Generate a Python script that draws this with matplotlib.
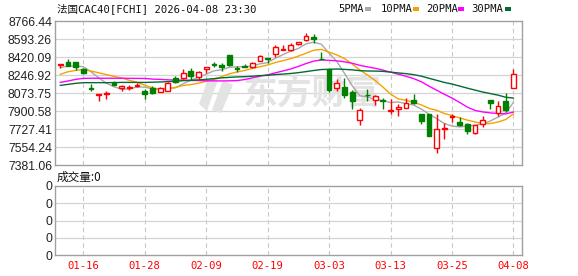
import matplotlib
matplotlib.use("Agg")
import matplotlib.pyplot as plt
from matplotlib.patches import Rectangle, Polygon
import numpy as np
import pandas as pd

# ---------------- data ----------------
dates = ["01-13", "01-14", "01-15", "01-16", "01-19", "01-20", "01-21", "01-22", "01-23",
         "01-26", "01-27", "01-28", "01-29", "01-30",
         "02-02", "02-03", "02-04", "02-05", "02-06", "02-09", "02-10", "02-11", "02-12",
         "02-13", "02-16", "02-17", "02-18", "02-19", "02-20", "02-23", "02-24", "02-25",
         "02-26", "02-27",
         "03-02", "03-03", "03-04", "03-05", "03-06", "03-09", "03-10", "03-11", "03-12",
         "03-13", "03-16", "03-17", "03-18", "03-19", "03-20", "03-23", "03-24", "03-25",
         "03-26", "03-27", "03-30", "03-31",
         "04-01", "04-02", "04-07", "04-08"]

opens = [8344.8, 8373.8, 8370.6, 8309.5, 8122.9, 8052.2, 8061.8, 8168.0, 8122.9, 8126.2,
         8145.5, 8097.2, 8119.7, 8081.1, 8090.8, 8219.4, 8222.6, 8286.9, 8225.8, 8303.0,
         8354.5, 8348.1, 8441.3, 8312.7, 8332.0, 8328.8, 8380.2, 8412.4, 8451.0, 8492.8,
         8492.8, 8550.7, 8586.0, 8618.2, 8406.0, 8306.2, 8126.2, 8129.4, 8084.3, 7814.2,
         8058.6, 8003.9, 8007.2, 7904.2, 7920.3, 7926.8, 8007.2, 7872.1, 7872.1, 7540.8,
         7730.6, 7843.1, 7794.9, 7772.4, 7692.0, 7778.8, 8003.9, 7878.5, 8000.7, 8119.7]

highs = [8357.7, 8399.5, 8373.8, 8319.1, 8158.3, 8061.8, 8094.0, 8190.5, 8155.1, 8155.1,
         8168.0, 8113.3, 8142.2, 8135.8, 8180.8, 8238.7, 8303.0, 8312.7, 8283.7, 8322.3,
         8373.8, 8364.1, 8444.5, 8335.2, 8354.5, 8373.8, 8444.5, 8412.4, 8537.8, 8534.6,
         8553.9, 8566.7, 8650.4, 8643.9, 8467.0, 8306.2, 8213.0, 8216.2, 8103.6, 7929.9,
         8110.1, 8052.2, 8029.7, 8013.6, 7971.8, 8023.2, 8065.0, 7872.1, 7872.1, 7868.9,
         7782.0, 7875.3, 7839.9, 7782.0, 7769.2, 7849.6, 8003.9, 7997.5, 8071.5, 8303.0]

lows = [8319.1, 8335.2, 8299.8, 8258.0, 8097.2, 8000.7, 8020.0, 8148.7, 8097.2, 8103.6,
        8129.4, 8020.0, 8065.0, 8081.1, 8090.8, 8168.0, 8213.0, 8200.1, 8196.9, 8270.9,
        8325.5, 8283.7, 8338.4, 8277.3, 8322.3, 8312.7, 8380.2, 8360.9, 8425.2, 8492.8,
        8483.1, 8537.8, 8579.6, 8553.9, 8393.1, 8087.6, 8094.0, 8029.7, 7917.1, 7769.2,
        7997.5, 7962.1, 7923.5, 7872.1, 7852.8, 7926.8, 7968.6, 7775.6, 7663.0, 7499.0,
        7627.7, 7798.1, 7756.3, 7682.3, 7682.3, 7746.7, 7917.1, 7856.0, 7894.6, 8119.7]

closes = [8354.5, 8338.4, 8325.5, 8264.4, 8116.5, 8061.8, 8077.9, 8155.1, 8145.5, 8132.6,
          8155.1, 8068.3, 8077.9, 8126.2, 8174.4, 8180.8, 8264.4, 8241.9, 8274.1, 8322.3,
          8341.6, 8322.3, 8348.1, 8306.2, 8325.5, 8367.4, 8434.9, 8406.0, 8518.5, 8499.2,
          8534.6, 8566.7, 8627.8, 8595.7, 8399.5, 8103.6, 8174.4, 8052.2, 8000.7, 7910.7,
          8052.2, 8042.5, 8000.7, 7910.7, 7936.4, 7975.0, 7975.0, 7807.8, 7663.0, 7724.2,
          7737.0, 7849.6, 7766.0, 7704.9, 7762.7, 7811.0, 7981.4, 7952.5, 7910.7, 8261.2]

# closes before the visible window (used only for the moving averages)
prior_closes = [8040, 8025, 8080, 8110, 8060, 8090, 8120, 8100, 8130, 8150,
                8080, 8010, 8060, 8090, 8070, 8080, 8150, 8140, 8160, 8162,
                8085, 8200, 8180, 8260, 8230,
                8257, 8325, 8297, 8361]

volumes = [0] * len(dates)

tick_labels = ["01-16", "01-28", "02-09", "02-19", "03-03", "03-13", "03-25", "04-08"]
price_ticks = [8766.44, 8593.26, 8420.09, 8246.92, 8073.75, 7900.58, 7727.41, 7554.24, 7381.06]
vol_ticks = [0, 1, 2, 3, 4]
vol_tick_labels = ["0", "0", "0", "0", "0"]

ma_periods = [5, 10, 20, 30]
ma_names = ["5PMA", "10PMA", "20PMA", "30PMA"]
ma_colors = ["#a8a8a8", "#f5a200", "#ff00ff", "#006b36"]

title_text = "法国CAC40[FCHI] 2026-04-08 23:30"
vol_title = "成交量:0"
watermark = "东方财富"

# ---------------- styling ----------------
UP = "#ff0000"
DOWN = "#008000"
GRID = "#d4d4d4"
BORDER = "#a0a0a0"
WM = "#e3e3e3"
W, H = 578, 276

fig = plt.figure(figsize=(W / 100, H / 100), dpi=100)


def box(l, t, r, b):
    return [l / W, 1 - b / H, (r - l) / W, (b - t) / H]


def fpt(px, py):
    return (px / W, 1 - py / H)


ax = fig.add_axes(box(55.3, 21.3, 522, 165))
axv = fig.add_axes(box(55.3, 186, 522, 255.3))

n = len(dates)
x = np.arange(n)
o = np.array(opens)
c = np.array(closes)
hi = np.array(highs)
lo = np.array(lows)
up = c >= o

tick_pos = [dates.index(t) for t in tick_labels]

for a in (ax, axv):
    a.set_xlim(-0.65, n + 0.12)
    for s in a.spines.values():
        s.set_color(BORDER)
        s.set_linewidth(1.0)
    for tp in tick_pos:
        a.axvline(tp, color="#c8c8c8", lw=0.8, ls=(0, (4, 3)), zorder=1)
    a.tick_params(length=0)

# main panel
ax.set_ylim(price_ticks[-1], price_ticks[0])
for yv in price_ticks[1:-1]:
    ax.axhline(yv, color=GRID, lw=0.9, zorder=1)
ax.set_yticks(price_ticks)
ax.set_yticklabels([f"{v:.2f}" for v in price_ticks], family="Liberation Sans",
                   fontsize=8.8, color="#222222")
ax.tick_params(axis="y", pad=2.4)
ax.set_xticks([])

# watermark logo
ax.text(0.55, 0.50, watermark, transform=ax.transAxes, ha="center", va="center",
        fontsize=25, fontweight="bold", family="Noto Sans CJK SC", color=WM, zorder=1.5)
for pts in ([(208, 79), (219, 77), (207, 111), (199, 104)],
            [(223, 80), (233, 85), (221, 113), (212, 110)]):
    ax.add_patch(Polygon([fpt(px, py) for px, py in pts], closed=True,
                         transform=fig.transFigure, facecolor=WM, edgecolor="none",
                         zorder=1.5))

# moving averages
all_closes = pd.Series(list(prior_closes) + list(closes), dtype=float)
for p, col in zip(ma_periods, ma_colors):
    ma = all_closes.rolling(p).mean().values[len(prior_closes):]
    ax.plot(x, ma, color=col, lw=1.0, zorder=2.5)

# candles
bw = 0.62
ax.vlines(x[up], lo[up], hi[up], color=UP, lw=1.0, zorder=3)
ax.vlines(x[~up], lo[~up], hi[~up], color=DOWN, lw=1.0, zorder=3)
ax.bar(x[up], c[up] - o[up], bottom=o[up], width=bw, facecolor="white",
       edgecolor=UP, linewidth=1.0, zorder=4)
ax.bar(x[~up], c[~up] - o[~up], bottom=o[~up], width=bw, facecolor=DOWN,
       edgecolor=DOWN, linewidth=1.0, zorder=4)

# volume panel
axv.bar(x, volumes, width=bw, color=UP)
axv.set_ylim(vol_ticks[0], vol_ticks[-1])
for yv in vol_ticks[1:-1]:
    axv.axhline(yv, color=GRID, lw=0.9, zorder=1)
axv.set_yticks(vol_ticks)
axv.set_yticklabels(vol_tick_labels, family="Liberation Sans", fontsize=8.8, color="#222222")
axv.tick_params(axis="y", pad=2.4)
axv.set_xticks(tick_pos)
axv.set_xticklabels(tick_labels, family="DejaVu Sans Mono", fontsize=7.6, color="#ff0000")
axv.tick_params(axis="x", pad=4.0)

# texts
fig.text(57 / W, 1 - 9 / H, title_text, family=["DejaVu Sans Mono", "Noto Sans CJK SC"],
         fontsize=7.6, color="#111111", ha="left", va="center")
fig.text(57 / W, 1 - 177 / H, vol_title, family=["Noto Sans CJK SC", "DejaVu Sans"],
         fontsize=8.4, color="#111111", ha="left", va="center")

leg_x = [338.3, 380.7, 426.0, 471.7]
sq_x = [365.0, 413.3, 458.0, 505.0]
for name, col, tx, sx in zip(ma_names, ma_colors, leg_x, sq_x):
    fig.text(tx / W, 1 - 9 / H, name, family="DejaVu Sans Mono", fontsize=7.6,
             color="#111111", ha="left", va="center")
    fig.add_artist(Rectangle((sx / W, 1 - 10.5 / H), 5.5 / W, 4 / H,
                             transform=fig.transFigure, facecolor=col, edgecolor="none"))

fig.savefig("out.png", dpi=100)
